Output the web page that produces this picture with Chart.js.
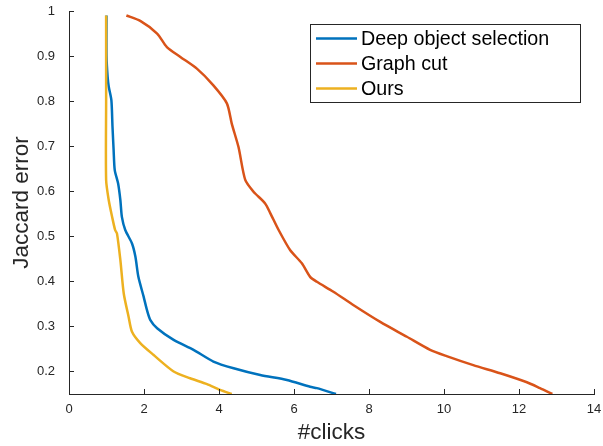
<!DOCTYPE html>
<html>
<head>
<meta charset="utf-8">
<script src="https://cdn.jsdelivr.net/npm/chart.js@4.4.1/dist/chart.umd.min.js"></script>
<style>
  html, body { margin: 0; padding: 0; background: #fff; }
  #wrap { width: 603px; height: 446px; }
</style>
</head>
<body>
<div id="wrap"><canvas id="chart"></canvas></div>
<script>
// series names
const seriesNames = ['Deep object selection', 'Graph cut', 'Ours'];

// Deep object selection: #clicks vs jaccard error
const dosClicks = [1.00, 1.00, 1.03, 1.06, 1.13, 1.16, 1.19, 1.22, 1.31, 1.37, 1.41, 1.50, 1.68, 1.77, 1.85, 1.99, 2.08, 2.17, 2.35, 2.79, 3.32, 3.85, 4.39, 5.10, 5.81, 6.43, 6.61, 7.12];
const dosError  = [0.99, 0.90, 0.854, 0.832, 0.802, 0.743, 0.691, 0.647, 0.617, 0.580, 0.543, 0.514, 0.484, 0.455, 0.410, 0.366, 0.336, 0.314, 0.296, 0.270, 0.248, 0.222, 0.207, 0.192, 0.181, 0.166, 0.163, 0.150];

// Graph cut
const gcClicks = [1.53, 1.90, 2.35, 2.61, 2.97, 3.41, 3.85, 4.21, 4.34, 4.52, 4.70, 4.92, 5.23, 5.37, 5.59, 5.90, 6.21, 6.43, 6.61, 7.05, 7.59, 8.30, 9.01, 9.63, 10.07, 10.78, 11.50, 12.21, 12.56, 12.89];
const gcError  = [0.990, 0.978, 0.950, 0.920, 0.898, 0.872, 0.835, 0.795, 0.750, 0.698, 0.625, 0.599, 0.573, 0.551, 0.514, 0.469, 0.440, 0.410, 0.399, 0.377, 0.347, 0.310, 0.277, 0.248, 0.234, 0.214, 0.196, 0.176, 0.163, 0.150];

// Ours
const oursClicks = [0.99, 0.99, 0.99, 1.06, 1.15, 1.23, 1.28, 1.37, 1.46, 1.59, 1.68, 1.90, 2.25, 2.79, 3.23, 3.68, 4.03, 4.34];
const oursError  = [0.990, 0.800, 0.625, 0.580, 0.543, 0.514, 0.506, 0.447, 0.373, 0.321, 0.288, 0.263, 0.237, 0.200, 0.185, 0.172, 0.159, 0.150];

// axis ticks
const xTicks = [0, 2, 4, 6, 8, 10, 12, 14];
const yTicks = [0.2, 0.3, 0.4, 0.5, 0.6, 0.7, 0.8, 0.9, 1];

const colors = ['#0072BD', '#D95319', '#EDB120'];
const FONT = "'Liberation Sans', Arial, Helvetica, sans-serif";

function pts(xs, ys) {
  return xs.map((x, i) => ({ x: x, y: ys[i] }));
}

// legend inside the plot + inward tick marks (matlab look)
const matlabBits = {
  id: 'matlabBits',
  afterDraw(chart) {
    const ctx = chart.ctx;
    const xs = chart.scales.x, ys = chart.scales.y;
    const a = chart.chartArea;
    ctx.save();
    ctx.strokeStyle = '#262626';
    ctx.lineWidth = 1;
    ctx.beginPath();
    xs.ticks.forEach(t => {
      const px = Math.round(xs.getPixelForValue(t.value)) + 0.5;
      ctx.moveTo(px, a.bottom);
      ctx.lineTo(px, a.bottom - 5);
    });
    ys.ticks.forEach(t => {
      const py = Math.round(ys.getPixelForValue(t.value)) + 0.5;
      ctx.moveTo(a.left, py);
      ctx.lineTo(a.left + 5, py);
    });
    ctx.stroke();

    // legend box
    const bx = 310.5, by = 24.5, bw = 270, bh = 78;
    ctx.fillStyle = '#fff';
    ctx.fillRect(bx, by, bw, bh);
    ctx.strokeStyle = '#262626';
    ctx.strokeRect(bx, by, bw, bh);
    ctx.font = '19.7px ' + FONT;
    ctx.textBaseline = 'middle';
    ctx.textAlign = 'left';
    chart.data.datasets.forEach((ds, i) => {
      const ly = 38.5 + i * 25;
      ctx.strokeStyle = ds.borderColor;
      ctx.lineWidth = 2.5;
      ctx.beginPath();
      ctx.moveTo(316, ly);
      ctx.lineTo(357, ly);
      ctx.stroke();
      ctx.fillStyle = '#000';
      ctx.fillText(ds.label, 361, ly + 1);
    });
    ctx.restore();
  }
};

const datasets = [
  { label: seriesNames[0], data: pts(dosClicks, dosError), order: 2 },
  { label: seriesNames[1], data: pts(gcClicks, gcError), order: 1 },
  { label: seriesNames[2], data: pts(oursClicks, oursError), order: 0 }
].map((d, i) => Object.assign(d, {
  showLine: true,
  borderColor: colors[i],
  backgroundColor: colors[i],
  borderWidth: 2.5,
  pointRadius: 0,
  tension: 0.25,
  fill: false
}));

new Chart(document.getElementById('chart'), {
  type: 'scatter',
  data: { datasets: datasets },
  options: {
    responsive: true,
    maintainAspectRatio: false,
    animation: false,
    layout: { padding: { left: 0, right: 9, top: 11, bottom: 0 } },
    plugins: {
      legend: { display: false },
      tooltip: { enabled: false }
    },
    scales: {
      x: {
        type: 'linear',
        min: 0, max: 14,
        afterBuildTicks: s => { s.ticks = xTicks.map(v => ({ value: v })); },
        afterFit: s => { s.height = 52; s.paddingLeft = 0; s.paddingRight = 0; },
        grid: { display: false, drawTicks: false },
        border: { display: true, color: '#262626', width: 1 },
        ticks: { padding: 8, color: '#262626', font: { family: FONT, size: 13 } },
        title: { display: true, text: '#clicks', color: '#262626',
                 font: { family: FONT, size: 22.5 }, padding: { top: 0, bottom: 0 } }
      },
      y: {
        type: 'linear',
        min: 0.15, max: 1,
        afterBuildTicks: s => { s.ticks = yTicks.map(v => ({ value: v })); },
        afterFit: s => { s.width = 69; s.paddingTop = 0; s.paddingBottom = 0; },
        grid: { display: false, drawTicks: false },
        border: { display: true, color: '#262626', width: 1 },
        ticks: { padding: 14, color: '#262626', font: { family: FONT, size: 13 },
                 callback: v => String(Math.round(v * 10) / 10) },
        title: { display: true, text: 'Jaccard error', color: '#262626',
                 font: { family: FONT, size: 22.5 }, padding: { top: 8, bottom: 0 } }
      }
    }
  },
  plugins: [matlabBits]
});
</script>
</body>
</html>
